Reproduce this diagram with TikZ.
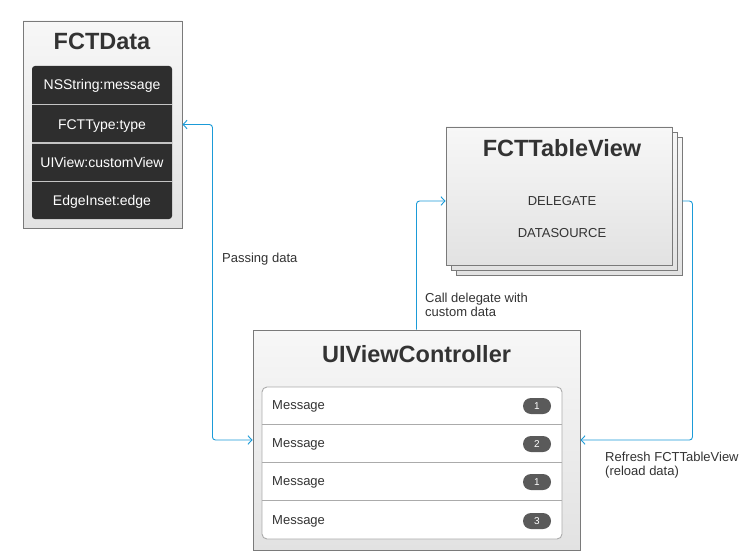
\documentclass[tikz,border=0pt]{standalone}
\usepackage{fontspec}
\setmainfont{Liberation Sans}
\usetikzlibrary{arrows.meta}
\definecolor{txt}{HTML}{333333}
\definecolor{bord}{HTML}{7A7A7A}
\definecolor{btop}{HTML}{F7F7F7}
\definecolor{bbot}{HTML}{E2E2E2}
\definecolor{dark}{HTML}{2E2E2E}
\definecolor{sepc}{HTML}{C4C4C4}
\definecolor{connc}{HTML}{1B9BD8}
\definecolor{badgec}{HTML}{5A5A5A}
\definecolor{listline}{HTML}{ABABAB}
\begin{document}
\begin{tikzpicture}[x=1pt,y=-1pt,
  box/.style={draw=bord, line width=0.9pt, top color=btop, bottom color=bbot, inner sep=0pt, rectangle},
  titletext/.style={font=\fontsize{23.5}{28}\selectfont\bfseries, text=txt, anchor=base, inner sep=0pt},
  fieldtext/.style={font=\fontsize{14}{16}\selectfont, text=white, anchor=base, inner sep=0pt},
  bodytext/.style={font=\fontsize{13}{14}\selectfont, text=txt, inner sep=0pt},
  lbl/.style={font=\fontsize{13}{14}\selectfont, text=txt, inner sep=0pt, align=left},
  badgest/.style={fill=badgec, rounded corners=8pt, minimum width=28pt, minimum height=16pt, inner sep=0pt, text=white, font=\fontsize{10}{12}\selectfont},
  connline/.style={draw=connc, line width=0.9pt, rounded corners=3pt},
  tipb/.tip={Straight Barb[length=4pt,width=8.5pt,line width=0.9pt]}
]
\useasboundingbox (0,0) rectangle (749,559);
\fill[white] (0,0) rectangle (749,559);

% FCTData
\node[box, minimum width=159pt, minimum height=207pt] (fctdata) at (102.5,124.5) {};
\node[titletext] (tdata) at (102,50) {FCTData};
\node[fill=dark, rounded corners=3pt, minimum width=140pt, minimum height=153pt, inner sep=0pt] (fields) at (102,142.5) {};
\draw[sepc, line width=1.5pt] (32,104.5) -- (172,104.5);
\draw[sepc, line width=1.5pt] (32,143) -- (172,143);
\draw[sepc, line width=1.5pt] (32,181.5) -- (172,181.5);
\node[fieldtext] (f1) at (102,90) {NSString:message};
\node[fieldtext] (f2) at (102,129) {FCTType:type};
\node[fieldtext] (f3) at (102,167) {UIView:customView};
\node[fieldtext] (f4) at (102,205.5) {EdgeInset:edge};

% FCTTableView stack
\node[box, minimum width=226pt, minimum height=138pt] (back) at (569,206) {};
\node[box, minimum width=226pt, minimum height=138pt] (middle) at (564,201) {};
\node[box, minimum width=226pt, minimum height=138pt] (front) at (559,196) {};
\node[titletext] (ttable) at (562,157) {FCTTableView};
\node[bodytext, anchor=base] (del) at (562,205.5) {DELEGATE};
\node[bodytext, anchor=base] (dsrc) at (562,237.5) {DATASOURCE};

% UIViewController
\node[box, minimum width=327pt, minimum height=220pt] (ctrl) at (416.5,440) {};
\node[titletext] (tctrl) at (416.5,362) {UIViewController};
\node[draw=listline, fill=white, line width=0.9pt, rounded corners=5pt, minimum width=300pt, minimum height=152pt, inner sep=0pt] (list) at (412,463) {};
\draw[listline, line width=1.1pt] (262,424.5) -- (562,424.5);
\draw[listline, line width=1.6pt] (262,462.5) -- (562,462.5);
\draw[listline, line width=1.1pt] (262,500.5) -- (562,500.5);
\node[bodytext, anchor=base west] (m1) at (272,409.5) {Message};
\node[bodytext, anchor=base west] (m2) at (272,447.5) {Message};
\node[bodytext, anchor=base west] (m3) at (272,485.5) {Message};
\node[bodytext, anchor=base west] (m4) at (272,524.5) {Message};
\node[badgest] (b1) at (537,406) {1};
\node[badgest] (b2) at (537,444) {2};
\node[badgest] (b3) at (537,482) {1};
\node[badgest] (b4) at (537,521) {3};

% connectors
\draw[connline, tipb-tipb] (fctdata.east) -- ++(30,0) |- (ctrl.west);
\draw[connline, -tipb] (ctrl.north) |- (front.west |- del);
\draw[connline, -tipb] (back.east |- del) -- ++(10,0) |- (ctrl.east);

% labels
\node[lbl, anchor=base west] (lpass) at (222,262.5) {Passing data};
\node[lbl, anchor=north west] (lcall) at (425,293) {Call delegate with\\custom data};
\node[lbl, anchor=north west] (lref) at (605,452) {Refresh FCTTableView\\(reload data)};
\end{tikzpicture}
\end{document}
